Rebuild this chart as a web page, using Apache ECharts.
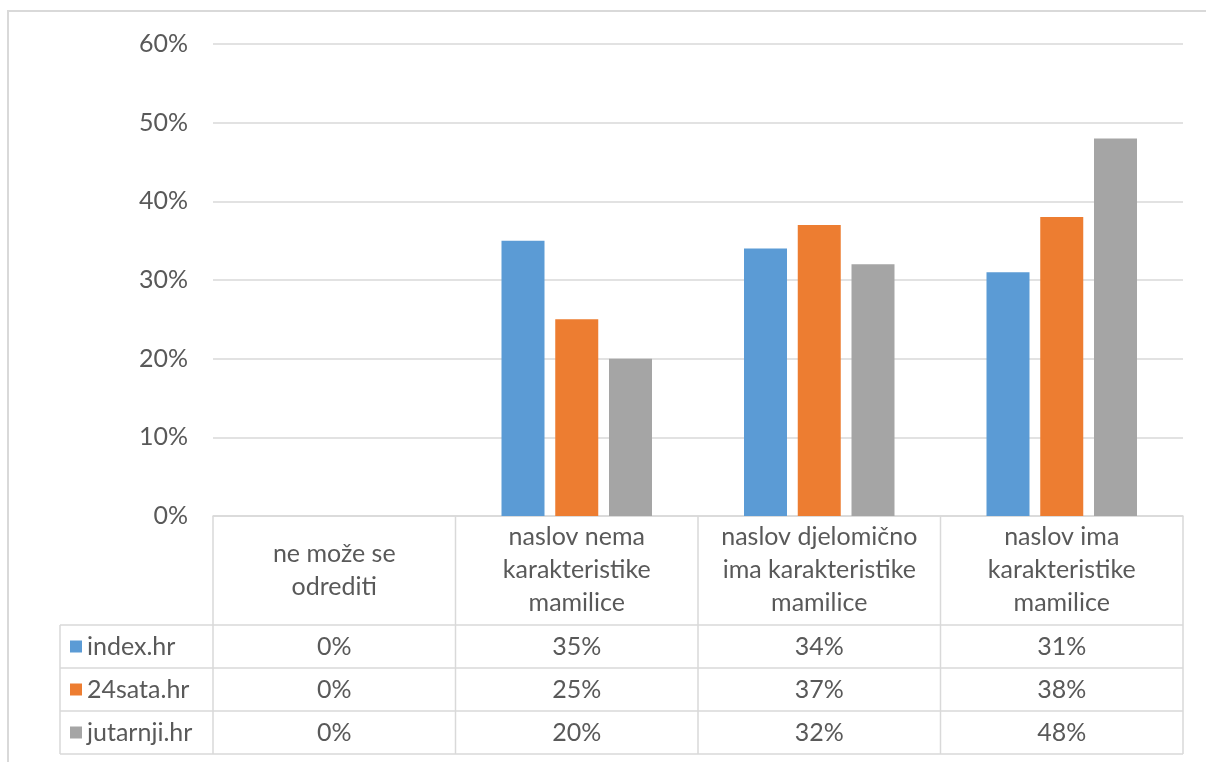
<!DOCTYPE html>
<html>
<head>
<meta charset="utf-8">
<script src="https://cdn.jsdelivr.net/npm/echarts@6/dist/echarts.min.js"></script>
<style>
html,body{margin:0;padding:0;background:#fff;}
#chart{width:1206px;height:762px;}
</style>
</head>
<body>
<div id="chart"></div>
<script>
var categories = ['ne može se\nodrediti', 'naslov nema\nkarakteristike\nmamilice', 'naslov djelomično\nima karakteristike\nmamilice', 'naslov ima\nkarakteristike\nmamilice']
var seriesNames = ['index.hr', '24sata.hr', 'jutarnji.hr']
var indexHr = [0, 0.35, 0.34, 0.31]
var sata24 = [0, 0.25, 0.37, 0.38]
var jutarnji = [0, 0.20, 0.32, 0.48]
var yTicks = [0, 0.1, 0.2, 0.3, 0.4, 0.5, 0.6]
var colors = ['#5B9BD5', '#ED7D31', '#A5A5A5']

var FONT = 'Lato'
var FS = 25
var TXT = '#595959'
var LINE = '#d9d9d9'

var chart = echarts.init(document.getElementById('chart'))
var allData = [indexHr, sata24, jutarnji]

function pct(v){ return Math.round(v*100) + '%' }

var option = {
	animation: false,
	color: colors,
	grid: {left: 213, right: 23, top: 44, bottom: 246},
	xAxis: {
		type: 'category',
		data: categories,
		axisLine: {show: true, lineStyle: {color: LINE, width: 1.5}},
		axisTick: {show: false},
		axisLabel: {
			interval: 0,
			margin: 54,
			verticalAlign: 'middle',
			color: TXT,
			fontFamily: FONT,
			fontSize: FS,
			lineHeight: 33
		}
	},
	yAxis: {
		type: 'value',
		min: yTicks[0],
		max: yTicks[yTicks.length-1],
		interval: 0.1,
		axisLine: {show: false},
		axisTick: {show: false},
		splitLine: {lineStyle: {color: LINE, width: 1.5}},
		axisLabel: {
			margin: 25,
			color: TXT,
			fontFamily: FONT,
			fontSize: FS,
			formatter: function(v){ return pct(v) }
		}
	},
	series: seriesNames.map(function(name, i){
		return {
			name: name,
			type: 'bar',
			data: allData[i],
			barWidth: 43,
			barGap: '25%',
			itemStyle: {color: colors[i]}
		}
	})
}
chart.setOption(option)

// data table below the plot, built from the axis scale
function buildTable(){
	var rect = chart.getModel().getComponent('grid').coordinateSystem.getRect()
	var c0 = chart.convertToPixel({xAxisIndex: 0}, 0)
	var c1 = chart.convertToPixel({xAxisIndex: 0}, 1)
	var band = c1 - c0
	var top = rect.y + rect.height
	var headerH = 109
	var rowH = 43
	var tableLeft = 60
	var right = rect.x + rect.width
	var bottom = top + headerH + rowH*seriesNames.length
	var els = []
	var ls = {stroke: LINE, lineWidth: 1.5}

	// outer chart border
	els.push({type: 'rect', shape: {x: 8, y: 11, width: 1220, height: 780}, style: {fill: 'none', stroke: LINE, lineWidth: 2}})

	// vertical lines
	for(var i=0;i<=categories.length;i++){
		var x = rect.x + band*i
		els.push({type: 'line', shape: {x1: x, y1: top, x2: x, y2: bottom}, style: ls})
	}
	els.push({type: 'line', shape: {x1: tableLeft, y1: top+headerH, x2: tableLeft, y2: bottom}, style: ls})

	// horizontal row lines
	for(var r=0;r<=seriesNames.length;r++){
		var y = top + headerH + rowH*r
		els.push({type: 'line', shape: {x1: tableLeft, y1: y, x2: right, y2: y}, style: ls})
	}

	// rows: legend key + values
	for(var s=0;s<seriesNames.length;s++){
		var cy = top + headerH + rowH*s + rowH/2
		els.push({type: 'rect', shape: {x: 70, y: cy-6, width: 12, height: 12}, style: {fill: colors[s]}})
		els.push({type: 'text', style: {x: 87, y: cy, text: seriesNames[s], fill: TXT, font: FS + 'px ' + FONT, textAlign: 'left', textVerticalAlign: 'middle'}})
		for(var c=0;c<categories.length;c++){
			var cx = chart.convertToPixel({xAxisIndex: 0}, c)
			els.push({type: 'text', style: {x: cx, y: cy, text: pct(allData[s][c]), fill: TXT, font: FS + 'px ' + FONT, textAlign: 'center', textVerticalAlign: 'middle'}})
		}
	}
	chart.setOption({graphic: {elements: els}})
}
buildTable()
</script>
</body>
</html>
